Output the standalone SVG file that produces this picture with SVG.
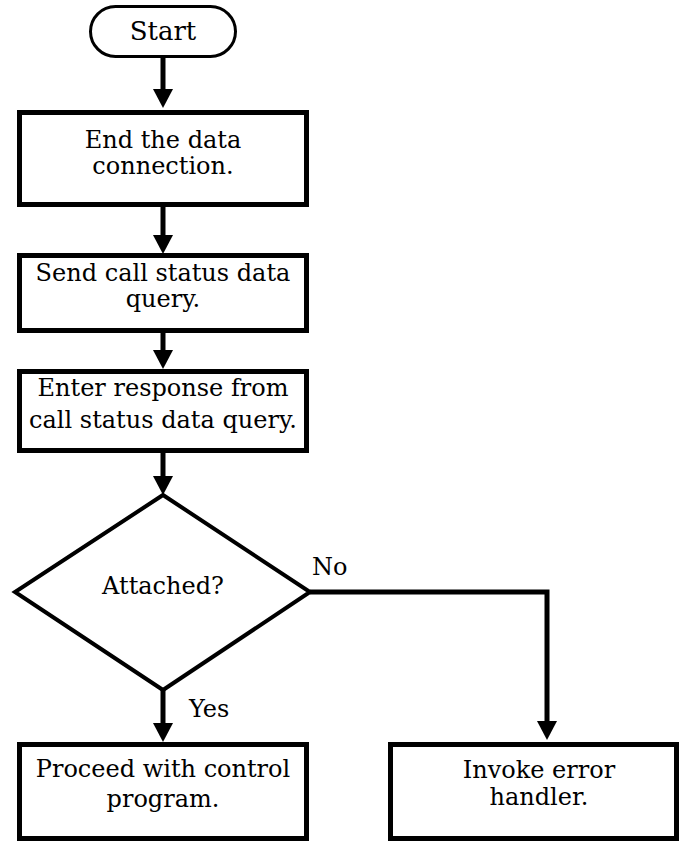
<svg xmlns="http://www.w3.org/2000/svg" width="680" height="843" viewBox="0 0 680 843">
<style>
.box{fill:#fff;stroke:#000;stroke-width:5}
.term{fill:#fff;stroke:#000;stroke-width:3}
.dia{fill:#fff;stroke:#000;stroke-width:4}
.con{fill:none;stroke:#000;stroke-width:5;marker-end:url(#ah)}
text{font-family:"DejaVu Serif","Liberation Serif",serif;font-size:24px;fill:#000;text-anchor:middle}
.lbl{text-anchor:start}
.big{font-size:26px}
</style>
<defs>
<marker id="ah" markerUnits="userSpaceOnUse" markerWidth="19" markerHeight="20" viewBox="0 0 19 20" refX="0" refY="10" orient="auto" overflow="visible">
<path d="M0,0 L19,10 L0,20 z" fill="#000"/>
</marker>
</defs>
<g id="connectors">
<path class="con" d="M163,58 V89"/>
<path class="con" d="M163,207 V235"/>
<path class="con" d="M163,333 V350"/>
<path class="con" d="M163,453 V476"/>
<path class="con" d="M163,690 V723"/>
<path class="con" d="M310,592 H547 V721"/>
<text class="lbl" x="189" y="717">Yes</text>
<text class="lbl" x="312" y="575">No</text>
</g>
<g id="start">
<rect class="term" x="90.5" y="6.5" width="145" height="50" rx="25"/>
<text class="big" x="163" y="40">Start</text>
</g>
<g id="end-connection">
<rect class="box" x="19.5" y="112.5" width="287" height="92"/>
<text x="163" y="148">End the data</text>
<text x="163" y="174">connection.</text>
</g>
<g id="send-query">
<rect class="box" x="19.5" y="255.5" width="287" height="75"/>
<text x="163" y="281">Send call status data</text>
<text x="163" y="307">query.</text>
</g>
<g id="enter-response">
<rect class="box" x="19.5" y="371.5" width="287" height="79"/>
<text x="163" y="396">Enter response from</text>
<text x="163" y="428">call status data query.</text>
</g>
<g id="attached">
<polygon class="dia" points="163,495 310,592 163,690 15,592"/>
<text x="163" y="594">Attached?</text>
</g>
<g id="proceed">
<rect class="box" x="19.5" y="744.5" width="287" height="94"/>
<text x="163" y="777">Proceed with control</text>
<text x="163" y="807">program.</text>
</g>
<g id="error-handler">
<rect class="box" x="390.5" y="744.5" width="286" height="94"/>
<text x="539" y="778">Invoke error</text>
<text x="539" y="805">handler.</text>
</g>
</svg>
